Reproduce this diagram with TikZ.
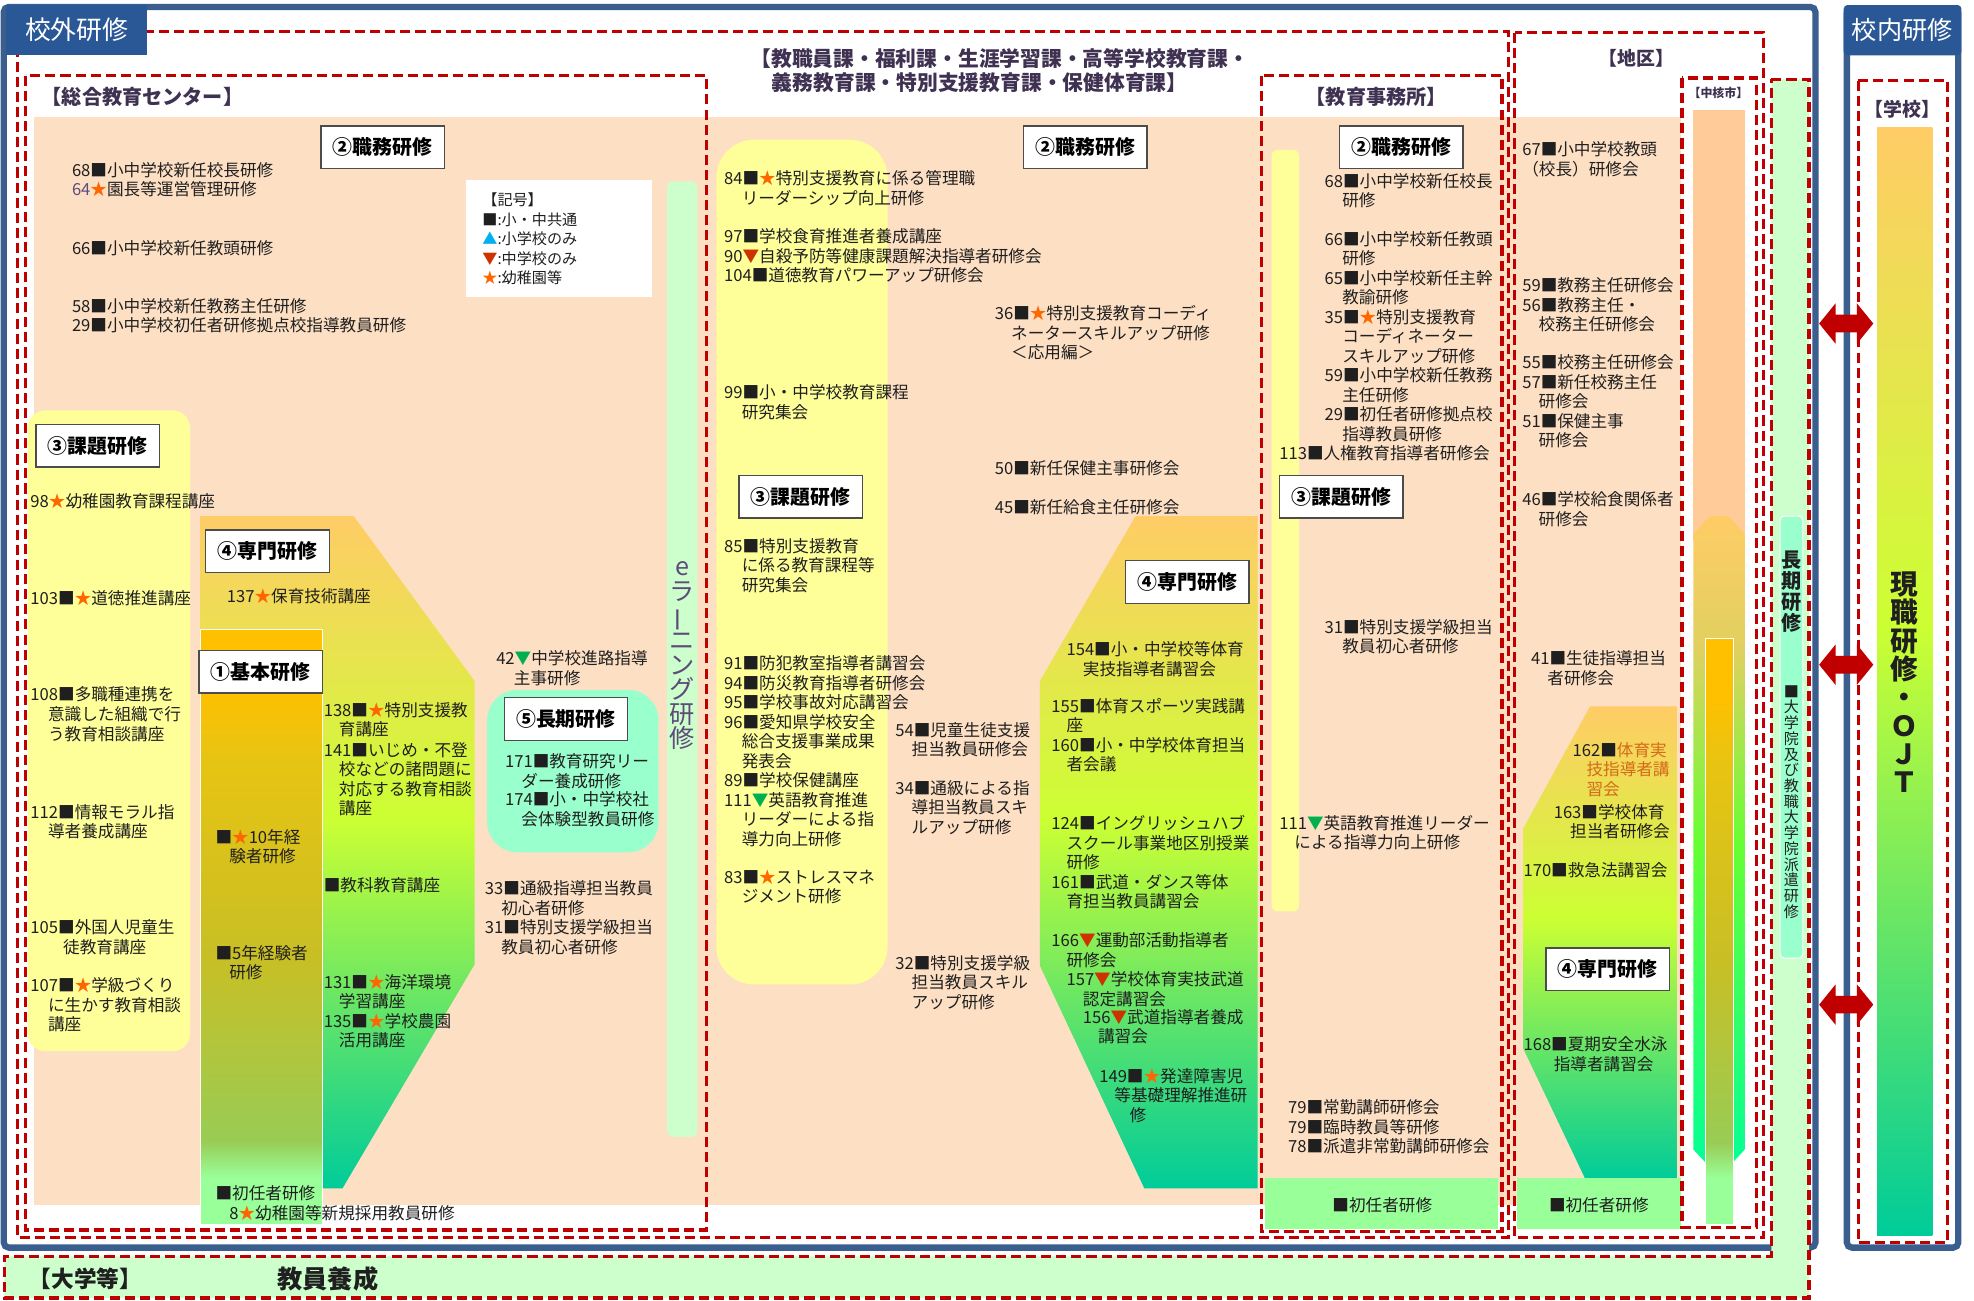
\documentclass[tikz,border=0pt]{standalone}
\usepackage{fontspec}
\setmainfont{Noto Sans CJK JP}
\definecolor{bluef}{HTML}{3A5F8F}
\definecolor{tabb}{HTML}{2A5896}
\definecolor{redd}{HTML}{C00000}
\definecolor{peach}{HTML}{FDDFC4}
\definecolor{lyel}{HTML}{FFFF99}
\definecolor{lgreen}{HTML}{CCFFCC}
\definecolor{aqua}{HTML}{99FFCC}
\definecolor{bandg}{HTML}{99FF99}
\definecolor{ttlc}{HTML}{3F3151}
\definecolor{purp}{HTML}{604A7B}
\definecolor{starc}{HTML}{FF6600}
\definecolor{tric}{HTML}{CC3300}
\definecolor{gtric}{HTML}{00B050}
\definecolor{btric}{HTML}{00B0F0}
\definecolor{txtc}{HTML}{1F1F1F}
\definecolor{corange}{HTML}{FFCC99}
\definecolor{orgtx}{HTML}{D46A1A}
% shading colours
\definecolor{cteal}{HTML}{00CC99}
\definecolor{cyg}{HTML}{CCFF33}
\definecolor{cor}{HTML}{FFCC66}
\definecolor{klg}{HTML}{99FF99}
\definecolor{kgreen}{HTML}{99CC55}
\definecolor{kolive}{HTML}{C8BF25}
\definecolor{kgold}{HTML}{E8C412}
\definecolor{kor}{HTML}{FFC000}
\definecolor{sg1}{HTML}{00FF99}
\definecolor{sg2}{HTML}{66FF33}
\definecolor{sg3}{HTML}{E0D060}
\pgfdeclareverticalshading{senmon}{100bp}{color(0bp)=(cteal); color(25bp)=(cteal); color(52.5bp)=(cyg); color(75bp)=(cor); color(100bp)=(cor)}
\pgfdeclareverticalshading{kihon}{100bp}{color(0bp)=(klg); color(25bp)=(klg); color(29bp)=(klg); color(32bp)=(kgreen); color(47.5bp)=(kolive); color(64.5bp)=(kgold); color(70bp)=(kor); color(100bp)=(kor)}
\pgfdeclareverticalshading{chukaku}{100bp}{color(0bp)=(sg1); color(25bp)=(sg1); color(50bp)=(sg2); color(65bp)=(sg3); color(75bp)=(cor); color(100bp)=(cor)}
\pgfdeclareverticalshading{school}{100bp}{color(0bp)=(cteal); color(25bp)=(cteal); color(52.5bp)=(cyg); color(75bp)=(cor); color(100bp)=(cor)}
\newcommand\fbody{\fontsize{13.2}{15.5}\selectfont}
\newcommand\flbl{\fontsize{15.8}{18}\selectfont\bfseries}
\newcommand\fttl{\fontsize{16}{19}\selectfont\bfseries}
\newcommand\ystar{{\color{starc}★}}
\newcommand\rtri{{\color{tric}▼}}
\newcommand\gtri{{\color{gtric}▼}}
\newcommand\btri{{\color{btric}▲}}
\newcommand\ind[1]{\hspace*{#1pt}}
\newcommand\dbla[1]{\fill[redd] (1445,#1) -- ++(13,-16) -- ++(0,9) -- ++(17,0) -- ++(0,-9) -- ++(13,16) -- ++(-13,16) -- ++(0,-9) -- ++(-17,0) -- ++(0,9) -- cycle;}
\tikzset{
  txt/.style={anchor=north west, yshift=6.5pt, inner sep=0pt, align=left, font=\fbody, text=txtc},
  lbl/.style={draw=black!70, line width=1pt, fill=white, minimum width=98pt, minimum height=34pt, inner sep=0pt, font=\flbl},
  rdash/.style={draw=redd, line width=2.6pt, dash pattern=on 8pt off 4pt},
  ttlnode/.style={anchor=north west, yshift=7.6pt, inner sep=0pt, align=left, font=\fttl, text=ttlc},
  ctxt/.style={inner sep=0pt, font=\fbody, text=txtc},
  vtxt/.style={inner sep=0pt, align=center},
}
\begin{document}
\begin{tikzpicture}[x=1pt,y=-1pt]
\useasboundingbox (0,0) rectangle (1568,1033);
\fill[white] (0,0) rectangle (1568,1033);
% ---------- backgrounds ----------
\fill[peach] (27,93) rectangle (1335,957);
\fill[lyel, rounded corners=14pt] (22,326) rectangle (151,835);
\fill[lgreen, rounded corners=5pt] (530,144) rectangle (554,903);
\fill[aqua, rounded corners=24pt] (387,548) rectangle (523,677);
\fill[lyel, rounded corners=30pt] (569,111) rectangle (705,782);
\fill[lyel, rounded corners=5pt] (1010,119) rectangle (1032,724);
% specialised training polygons
\shade[shading=senmon] (159,410) -- (281,410) -- (377,541) -- (377,766) -- (272,944) -- (159,944) -- cycle;
\shade[shading=senmon] (902,410) -- (999,410) -- (999,944) -- (909,944) -- (826,767) -- (826,541) -- cycle;
\shade[shading=senmon] (1263,561) -- (1332,561) -- (1332,936) -- (1259,936) -- (1210,833) -- (1210,658) -- cycle;
% basic training column
\shade[shading=kihon, draw=white, line width=0.8pt] (159,500) rectangle (256,973);
% first-year bands
\fill[bandg] (1005,936) rectangle (1190,976);
\fill[bandg] (1205,936) rectangle (1335,976);
% core city column
\fill[corange] (1345,87) rectangle (1386,430);
\shade[shading=chukaku] (1345,424) -- (1358,410) -- (1373,410) -- (1386,424) -- (1386,913) -- (1365.5,935) -- (1345,913) -- cycle;
\shade[shading=kihon, draw=white, line width=0.8pt] (1355,507) rectangle (1377,973);
% legend box
\fill[white] (370,143) rectangle (518,236);
% ---------- dashed frames ----------
\draw[rdash] (14,25) rectangle (1198,983);
\draw[rdash] (20,60) rectangle (561,977);
\draw[rdash] (1002,60) rectangle (1193,978);
\draw[rdash] (1203,26) rectangle (1401,983);
\draw[rdash] (1336,62) rectangle (1395.5,975);
% ---------- blue frames ----------
\draw[bluef, line width=5pt, rounded corners=4pt] (3,5.5) rectangle (1442,991);
\draw[bluef, line width=5pt, rounded corners=4pt] (1467,6.5) rectangle (1555.5,991);
\fill[tabb] (5,4) rectangle (117,44);
\fill[tabb, rounded corners=3pt] (1464.5,4) rectangle (1558,44);
\node[inner sep=0pt, font=\fontsize{20.5}{22}\selectfont, text=white] (tabOut) at (61,24) {校外研修};
\node[inner sep=0pt, font=\fontsize{20}{22}\selectfont, text=white] (tabIn) at (1511,24) {校内研修};
% ---------- university L-shape ----------
\path[fill=lgreen, rdash] (1407,63) -- (1437,63) -- (1437,1031) -- (3.5,1031) -- (3.5,998) -- (1407,998) -- cycle;
\fill[aqua, rounded corners=3pt, draw=white, line width=0.8pt] (1414,410) rectangle (1432,761);
\node[inner sep=0pt, font=\fontsize{18}{20}\selectfont\bfseries, text=txtc] (ttlU) at (68,1016) {【大学等】};
\node[inner sep=0pt, font=\fontsize{20}{22}\selectfont\bfseries, text=txtc] (ttlY) at (260.5,1016) {教員養成};
\node[vtxt, font=\fontsize{16}{16.5}\selectfont\bfseries, text=txtc] (vLong) at (1423,470) {長\\期\\研\\修};
\node[vtxt, font=\fontsize{12}{12.5}\selectfont, text=txtc] (vHaken) at (1423,637) {■\\大\\学\\院\\及\\び\\教\\職\\大\\学\\院\\派\\遣\\研\\修};
% ---------- school ----------
\draw[rdash] (1476,64) rectangle (1547,987);
\shade[shading=school] (1491,101) rectangle (1535,981);
\node[inner sep=0pt, font=\fontsize{15}{17}\selectfont\bfseries, text=ttlc] (ttlSch) at (1511,87) {【学校】};
\node[vtxt, font=\fontsize{22}{22.5}\selectfont\bfseries, text=txtc] (vOJT) at (1513,542) {現\\職\\研\\修\\・\\Ｏ\\Ｊ\\Ｔ};
% ---------- 総合教育センター ----------
\node[ttlnode] (ttlS) at (33,77) {【総合教育センター】};
\node[lbl] (bS2) at (304,117) {②職務研修};
\node[txt] (tS68) at (57,135) {68■小中学校新任校長研修\\{\color{purp}64}\ystar 園長等運営管理研修};
\node[txt] (tS66) at (57,197) {66■小中学校新任教頭研修};
\node[txt] (tS58) at (57,243) {58■小中学校新任教務主任研修\\29■小中学校初任者研修拠点校指導教員研修};
\node[txt, font=\fontsize{12}{15.4}\selectfont, yshift=-0.7pt] (leg) at (383,159) {【記号】\\■:小・中共通\\\btri:小学校のみ\\\rtri:中学校のみ\\\ystar:幼稚園等};
\node[lbl] (bS3) at (77.5,354) {③課題研修};
\node[txt] (tS98) at (24,398) {98\ystar 幼稚園教育課程講座};
\node[txt] (tS103) at (24,475) {103■\ystar 道徳推進講座};
\node[txt] (tS108) at (24,552) {108■多職種連携を\\\ind{14}意識した組織で行\\\ind{14}う教育相談講座};
\node[txt] (tS112) at (24,645) {112■情報モラル指\\\ind{14}導者養成講座};
\node[txt] (tS105) at (24,737) {105■外国人児童生\\\ind{26}徒教育講座};
\node[txt] (tS107) at (24,783) {107■\ystar 学級づくり\\\ind{14}に生かす教育相談\\\ind{14}講座};
\node[lbl] (bS4) at (212.5,438) {④専門研修};
\node[txt] (tS137) at (180,474) {137\ystar 保育技術講座};
\node[lbl] (bS1) at (207,533.5) {①基本研修};
\node[txt] (tS138) at (257,564) {138■\ystar 特別支援教\\\ind{12}育講座};
\node[txt] (tS141) at (257,596) {141■いじめ・不登\\\ind{12}校などの諸問題に\\\ind{12}対応する教育相談\\\ind{12}講座};
\node[txt] (tSkyo) at (257,703) {■教科教育講座};
\node[txt] (tS131) at (257,780) {131■\ystar 海洋環境\\\ind{12}学習講座};
\node[txt] (tS135) at (257,811) {135■\ystar 学校農園\\\ind{12}活用講座};
\node[txt] (tS10) at (171,665) {■\ystar 10年経\\\ind{11}験者研修};
\node[txt] (tS5) at (171,757) {■5年経験者\\\ind{11}研修};
\node[txt] (tSsho) at (171,948) {■初任者研修\\\ind{11}8\ystar 幼稚園等新規採用教員研修};
\node[txt] (tS42) at (394,523) {42\gtri 中学校進路指導\\\ind{14}主事研修};
\node[lbl] (bS5) at (449.5,571) {⑤長期研修};
\node[txt] (tS171) at (401,605) {171■教育研究リー\\\ind{13}ダー養成研修};
\node[txt] (tS174) at (401,635) {174■小・中学校社\\\ind{13}会体験型教員研修};
\node[txt] (tS33) at (385,706) {33■通級指導担当教員\\\ind{13}初心者研修};
\node[txt] (tS31) at (385,737) {31■特別支援学級担当\\\ind{13}教員初心者研修};
\node[vtxt, font=\fontsize{20}{19.5}\selectfont, text=purp] (vElearn) at (542,521) {e\\ラ\\\smash{\rotatebox[origin=c]{90}{ー}}\\ニ\\ン\\グ\\研\\修};
% ---------- 教職員課 etc. ----------
\node[ttlnode, font=\fontsize{16.5}{19}\selectfont\bfseries] (ttlM) at (596,46) {【教職員課・福利課・生涯学習課・高等学校教育課・\\\ind{17}義務教育課・特別支援教育課・保健体育課】};
\node[lbl] (bM2) at (862,117) {②職務研修};
\node[txt] (tM84) at (575,142) {84■\ystar 特別支援教育に係る管理職\\\ind{14}リーダーシップ向上研修};
\node[txt] (tM97) at (575,188) {97■学校食育推進者養成講座\\90\rtri 自殺予防等健康課題解決指導者研修会\\104■道徳教育パワーアップ研修会};
\node[txt] (tM36) at (790,249) {36■\ystar 特別支援教育コーディ\\\ind{13}ネータースキルアップ研修\\\ind{13}＜応用編＞};
\node[txt] (tM99) at (575,312) {99■小・中学校教育課程\\\ind{14}研究集会};
\node[lbl] (bM3) at (636,394.5) {③課題研修};
\node[txt] (tM50) at (790,372) {50■新任保健主事研修会};
\node[txt] (tM45) at (790,403) {45■新任給食主任研修会};
\node[txt] (tM85) at (575,434) {85■特別支援教育\\\ind{14}に係る教育課程等\\\ind{14}研究集会};
\node[txt] (tM91) at (575,527) {91■防犯教室指導者講習会\\94■防災教育指導者研修会\\95■学校事故対応講習会\\96■愛知県学校安全\\\ind{14}総合支援事業成果\\\ind{14}発表会\\89■学校保健講座\\111\gtri 英語教育推進\\\ind{14}リーダーによる指\\\ind{14}導力向上研修};
\node[txt] (tM83) at (575,697) {83■\ystar ストレスマネ\\\ind{14}ジメント研修};
\node[txt] (tM54) at (711,580) {54■児童生徒支援\\\ind{13}担当教員研修会};
\node[txt] (tM34) at (711,626) {34■通級による指\\\ind{13}導担当教員スキ\\\ind{13}ルアップ研修};
\node[txt] (tM32) at (711,765) {32■特別支援学級\\\ind{13}担当教員スキル\\\ind{13}アップ研修};
\node[lbl] (bM4) at (943,462.5) {④専門研修};
\node[txt] (tM154) at (847,516) {154■小・中学校等体育\\\ind{13}実技指導者講習会};
\node[txt] (tM155) at (835,561) {155■体育スポーツ実践講\\\ind{12}座\\160■小・中学校体育担当\\\ind{12}者会議};
\node[txt] (tM124) at (835,654) {124■イングリッシュハブ\\\ind{12}スクール事業地区別授業\\\ind{12}研修\\161■武道・ダンス等体\\\ind{12}育担当教員講習会};
\node[txt] (tM166) at (835,747) {166\rtri 運動部活動指導者\\\ind{12}研修会};
\node[txt] (tM157) at (847,778) {157\rtri 学校体育実技武道\\\ind{13}認定講習会};
\node[txt] (tM156) at (860,808) {156\rtri 武道指導者養成\\\ind{12}講習会};
\node[txt] (tM149) at (873,855) {149■\ystar 発達障害児\\\ind{12}等基礎理解推進研\\\ind{24}修};
% ---------- 教育事務所 ----------
\node[ttlnode] (ttlJ) at (1037,77) {【教育事務所】};
\node[lbl] (bJ2) at (1113,117) {②職務研修};
\node[txt] (tJ68) at (1052,144) {68■小中学校新任校長\\\ind{14}研修};
\node[txt] (tJ66) at (1052,190) {66■小中学校新任教頭\\\ind{14}研修\\65■小中学校新任主幹\\\ind{14}教諭研修\\35■\ystar 特別支援教育\\\ind{14}コーディネーター\\\ind{14}スキルアップ研修\\59■小中学校新任教務\\\ind{14}主任研修\\29■初任者研修拠点校\\\ind{14}指導教員研修};
\node[txt] (tJ113) at (1016,360) {113■人権教育指導者研修会};
\node[lbl] (bJ3) at (1065.5,394.5) {③課題研修};
\node[txt] (tJ31) at (1052,498) {31■特別支援学級担当\\\ind{14}教員初心者研修};
\node[txt] (tJ111) at (1016,654) {111\gtri 英語教育推進リーダー\\\ind{12}による指導力向上研修};
\node[txt] (tJ79) at (1023,880) {79■常勤講師研修会\\79■臨時教員等研修\\78■派遣非常勤講師研修会};
\node[ctxt] (tJband) at (1098,957) {■初任者研修};
% ---------- 地区 ----------
\node[inner sep=0pt, font=\fontsize{15}{17}\selectfont\bfseries, text=ttlc] (ttlC) at (1300,46) {【地区】};
\node[inner sep=0pt, font=\fontsize{9.5}{11}\selectfont\bfseries, text=ttlc] (ttlK) at (1365,74) {【中核市】};
\node[txt] (tC67) at (1209,119) {67■小中学校教頭\\（校長）研修会};
\node[txt] (tC59) at (1209,227) {59■教務主任研修会\\56■教務主任・\\\ind{13}校務主任研修会};
\node[txt] (tC55) at (1209,288) {55■校務主任研修会\\57■新任校務主任\\\ind{13}研修会\\51■保健主事\\\ind{13}研修会};
\node[txt] (tC46) at (1209,397) {46■学校給食関係者\\\ind{13}研修会};
\node[txt] (tC41) at (1216,523) {41■生徒指導担当\\\ind{13}者研修会};
\node[txt] (tC162) at (1249,596) {162■{\color{orgtx}体育実}\\\ind{11}{\color{orgtx}技指導者講}\\\ind{11}{\color{orgtx}習会}};
\node[txt] (tC163) at (1234,645) {163■学校体育\\\ind{13}担当者研修会};
\node[txt] (tC170) at (1210,691) {170■救急法講習会};
\node[lbl] (bC4) at (1277,770) {④専門研修};
\node[txt] (tC168) at (1210,830) {168■夏期安全水泳\\\ind{24}指導者講習会};
\node[ctxt] (tCband) at (1270,957) {■初任者研修};
% ---------- arrows ----------
\dbla{257}
\dbla{528}
\dbla{798}
\end{tikzpicture}
\end{document}
